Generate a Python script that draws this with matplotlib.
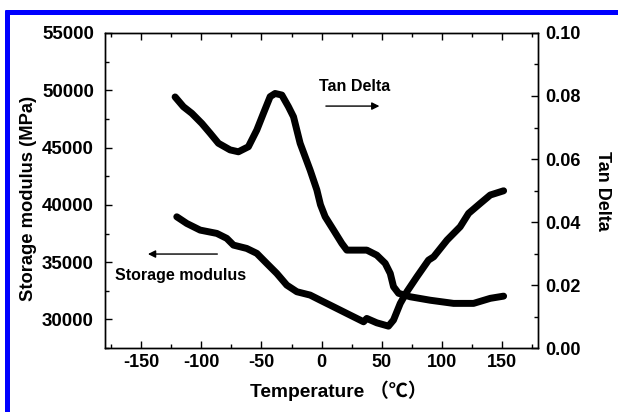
import matplotlib
matplotlib.use("Agg")
import matplotlib.pyplot as plt
from matplotlib.ticker import MultipleLocator
from matplotlib.lines import Line2D

# Tan Delta curve (right axis)
tan_T = [-121.8, -114.9, -107.9, -99.6, -92.7, -85.8, -76.1, -69.2, -60.9, -53.9,
         -48.4, -42.8, -38.7, -33.1, -27.6, -23.4, -17.9, -9.6, -4.0, -1.0,
         2.9, 9.8, 16.8, 20.9, 29.2, 37.5, 45.8, 52.8, 57.0, 59.7,
         63.9, 73.6, 90.2, 109.6, 126.2, 140.1, 151.2]
tan_D = [0.0797, 0.0766, 0.0745, 0.0713, 0.0682, 0.0650, 0.0629, 0.0623, 0.0639, 0.0692,
         0.0745, 0.0798, 0.0808, 0.0803, 0.0766, 0.0734, 0.0650, 0.0565, 0.0502, 0.0455,
         0.0417, 0.0375, 0.0332, 0.0311, 0.0311, 0.0311, 0.0295, 0.0269, 0.0237, 0.0195,
         0.0174, 0.0163, 0.0152, 0.0142, 0.0142, 0.0158, 0.0165]

# Storage modulus curve (left axis)
sm_T = [-120.4, -112.1, -101.0, -87.1, -78.9, -73.3, -62.3, -53.9, -45.6, -37.3,
        -29.0, -20.6, -9.6, -1.3, 9.8, 23.7, 34.8, 37.5, 45.8, 55.5,
        59.7, 65.3, 70.8, 79.1, 88.8, 93.1, 104.2, 115.1, 122.1, 131.8,
        140.1, 151.2]
sm_E = [38960, 38380, 37800, 37510, 37080, 36490, 36200, 35770, 34890, 34020,
        33000, 32420, 32130, 31690, 31110, 30380, 29800, 30090, 29710, 29420,
        29950, 31400, 32420, 33720, 35180, 35470, 36930, 38090, 39260, 40130,
        40860, 41230]

x_ticks = [-150, -100, -50, 0, 50, 100, 150]
left_ticks = [30000, 35000, 40000, 45000, 50000, 55000]
right_ticks = [0.00, 0.02, 0.04, 0.06, 0.08, 0.10]

FONT = ['Liberation Sans', 'DejaVu Sans']
plt.rcParams['font.family'] = FONT

fig = plt.figure(figsize=(6.18, 4.12), dpi=100)
ax = fig.add_axes([0.170, 0.155, 0.701, 0.765])
ax2 = ax.twinx()

ax.plot(sm_T, sm_E, color='black', lw=5.0, solid_capstyle='round', solid_joinstyle='round')
ax2.plot(tan_T, tan_D, color='black', lw=5.0, solid_capstyle='round', solid_joinstyle='round')

ax.set_xlim(-180, 180)
ax.set_ylim(27500, 55000)
ax2.set_ylim(0, 0.10)

ax.set_xticks(x_ticks)
ax.set_xticklabels([str(v) for v in x_ticks])
ax.xaxis.set_minor_locator(MultipleLocator(25))
ax.set_yticks(left_ticks)
ax.set_yticklabels([str(v) for v in left_ticks])
ax.yaxis.set_minor_locator(MultipleLocator(2500))
ax2.set_yticks(right_ticks)
ax2.set_yticklabels(['%.2f' % v for v in right_ticks])
ax2.yaxis.set_minor_locator(MultipleLocator(0.01))

ax.tick_params(axis='x', which='both', direction='in', top=True, bottom=True)
ax.tick_params(axis='y', which='both', direction='in', left=True, right=False)
ax2.tick_params(axis='y', which='both', direction='in', right=True)
for a in (ax, ax2):
    a.tick_params(which='major', length=5, width=1, labelsize=13)
    a.tick_params(which='minor', length=3, width=1)
    for lab in a.get_xticklabels() + a.get_yticklabels():
        lab.set_fontweight('bold')
    for s in a.spines.values():
        s.set_linewidth(1.0)
ax.tick_params(axis='x', which='major', pad=4)
ax.tick_params(axis='y', which='major', labelsize=13.5, pad=8)
ax2.tick_params(axis='y', which='major', pad=5)

ax.set_ylabel('Storage modulus (MPa)', fontsize=13.2, fontweight='bold', labelpad=4)
ax.yaxis.label.set_y(0.475)
ax2.set_ylabel('Tan Delta', fontsize=13, fontweight='bold', rotation=270, labelpad=22)
ax.set_xlabel('Temperature （℃）', fontsize=13.8, fontweight='bold', labelpad=7,
              family=['Liberation Sans', 'Noto Sans CJK SC', 'DejaVu Sans'])
ax.xaxis.label.set_x(0.54)

ax2.annotate('', xy=(50.3, 0.0768), xytext=(1.2, 0.0768),
             arrowprops=dict(arrowstyle='-|>', lw=1.0, color='black', mutation_scale=11))
ax2.text(27, 0.0829, 'Tan Delta', ha='center', va='center', fontsize=11.5, fontweight='bold')
ax.annotate('', xy=(-146.7, 35710), xytext=(-84.4, 35710),
            arrowprops=dict(arrowstyle='-|>', lw=1.0, color='black', mutation_scale=11))
ax.text(-117.6, 33870, 'Storage modulus', ha='center', va='center', fontsize=11.5, fontweight='bold')

# blue frame (top and left edges)
fig.add_artist(Line2D([0.008, 1.0], [0.972, 0.972], transform=fig.transFigure,
                      color='#0000ff', lw=3.6, solid_capstyle='butt'))
fig.add_artist(Line2D([0.012, 0.012], [0.0, 0.976], transform=fig.transFigure,
                      color='#0000ff', lw=3.6, solid_capstyle='butt'))

fig.savefig('out.png', dpi=100)
